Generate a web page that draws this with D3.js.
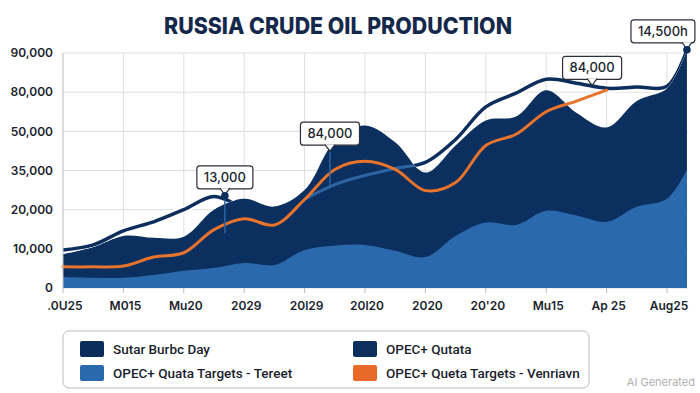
<!DOCTYPE html>
<html>
<head>
<meta charset="utf-8">
<script src="https://cdn.jsdelivr.net/npm/d3@7"></script>
<style>
  body { margin: 0; background: #fff; }
  svg { display: block; font-family: Inter, "Open Sans", sans-serif; }
  .grid line { stroke: #dedede; stroke-width: 1; }
  .tick-label { font-size: 12px; font-weight: 600; fill: #1b1f2e; }
</style>
</head>
<body>
<svg id="svg" width="700" height="393"></svg>
<script>
// data
const tickLabels = [".0U25", "M015", "Mu20", "2029", "20l29", "20l20", "2020", "20'20", "Mu15", "Ap 25", "Aug25"];
const yTicks = [0, 10000, 20000, 35000, 50000, 80000, 90000];

// sample positions, in x-tick units
const tPos = [0, 0.5, 1, 1.5, 2, 2.5, 3, 3.5, 4, 4.5, 5, 5.5, 6, 6.5, 7, 7.5, 8, 8.5, 9, 9.5, 10, 10.33];

const barrelsDay = [8700, 10500, 13300, 12800, 13100, 20000, 24200, 21200, 27500, 46200, 54500, 45800, 34200, 44600, 58300, 61300, 80500, 64300, 53000, 73300, 81000, 90800];
const targetsTereet = [2800, 2600, 2600, 3300, 4400, 5100, 6400, 5900, 9700, 10800, 11000, 9500, 7900, 13300, 16700, 16100, 19700, 18500, 16900, 21100, 24200, 35400];
const quotaLine = [9700, 11000, 14600, 16900, 20000, 25000, 20500, 17500, 24000, 29600, 33100, 35800, 38100, 46900, 68700, 79200, 83300, 82300, 81000, 81300, 81500, 90800];
const targetsVenriavn = [5400, 5400, 5600, 7900, 9000, 14900, 17700, 16100, 23900, 35400, 38500, 35400, 27300, 30400, 44600, 48900, 65000, 73200, 80500, null, null, null];

const annotations = [
  { label: "13,000", t: 2.68, v: 25300, dx: 0, dot: true, lead: 14000 },
  { label: "84,000", t: 4.42, v: 42000, dx: 0, dot: false, lead: 29200 },
  { label: "84,000", t: 8.76, v: 81500, dx: 0, dot: false, lead: null },
  { label: "14,500h", t: 10.33, v: 90800, dx: -24, dot: true, lead: null }
];

const legendItems = [
  { label: "Sutar Burbc Day", color: "#0b2d5b" },
  { label: "OPEC+ Qutata", color: "#0c2f5e" },
  { label: "OPEC+ Quata Targets - Tereet", color: "#2b69ad" },
  { label: "OPEC+ Queta Targets - Venriavn", color: "#e8692a" }
];

const svg = d3.select("#svg");
const plotL = 63, plotR = 688, plotT = 53, plotB = 288;

const x = d3.scaleLinear().domain([0, 10.35]).range([plotL, plotL + 10.35 * 60.4]);
const step = (plotB - plotT) / (yTicks.length - 1);
const y = d3.scaleLinear().domain(yTicks).range(yTicks.map((d, i) => plotB - i * step));

const rows = tPos.map((t, i) => ({
  t: t, dark: barrelsDay[i], light: targetsTereet[i], quota: quotaLine[i], orange: targetsVenriavn[i]
}));

// title
svg.append("text")
  .attr("x", 338).attr("y", 34)
  .attr("text-anchor", "middle")
  .attr("font-size", 23).attr("font-weight", 800)
  .attr("textLength", 348).attr("lengthAdjust", "spacingAndGlyphs")
  .attr("fill", "#14284b")
  .text("RUSSIA CRUDE OIL PRODUCTION");

// grid
const grid = svg.append("g").attr("class", "grid");
grid.selectAll("line.h").data(yTicks).enter().append("line")
  .attr("x1", plotL).attr("x2", plotR)
  .attr("y1", d => y(d)).attr("y2", d => y(d));
grid.selectAll("line.v").data(tickLabels).enter().append("line")
  .attr("x1", (d, i) => x(i)).attr("x2", (d, i) => x(i))
  .attr("y1", plotT).attr("y2", plotB);

const curve = d3.curveCatmullRom;

const darkArea = d3.area().curve(curve)
  .x(d => x(d.t)).y0(plotB).y1(d => y(d.dark));
const aboveDark = d3.area().curve(curve)
  .x(d => x(d.t)).y0(0).y1(d => y(d.dark));

const defs = svg.append("defs");
defs.append("clipPath").attr("id", "above-dark")
  .append("path").attr("d", aboveDark(rows));
defs.append("clipPath").attr("id", "in-dark")
  .append("path").attr("d", darkArea(rows));

svg.append("path")
  .attr("d", darkArea(rows))
  .attr("fill", "#0b2f5e");

svg.append("path")
  .attr("d", d3.area().curve(curve).x(d => x(d.t)).y0(plotB).y1(d => y(d.light))(rows))
  .attr("fill", "#2b69ad");

// quota line: lighter blue where it runs inside the dark area
const quotaGen = d3.line().curve(curve).x(d => x(d.t)).y(d => y(d.quota));
svg.append("path")
  .attr("d", quotaGen(rows.filter(d => d.t >= 4 && d.t <= 6.5)))
  .attr("clip-path", "url(#in-dark)")
  .attr("fill", "none")
  .attr("stroke", "#2d64a3")
  .attr("stroke-width", 3);

const quotaTop = svg.append("g").attr("clip-path", "url(#above-dark)");
quotaTop.append("path")
  .attr("d", quotaGen(rows))
  .attr("fill", "none").attr("stroke", "#fff").attr("stroke-width", 8);
quotaTop.append("path")
  .attr("d", quotaGen(rows))
  .attr("fill", "none").attr("stroke", "#0d2e5c").attr("stroke-width", 3.5);

// orange line
svg.append("path")
  .attr("d", d3.line().curve(curve).defined(d => d.orange != null)
    .x(d => x(d.t)).y(d => y(d.orange))(rows))
  .attr("fill", "none")
  .attr("stroke", "#e8732b")
  .attr("stroke-width", 3)
  .attr("stroke-linecap", "round");

// left axis line and bottom ticks
svg.append("line").attr("x1", plotL).attr("x2", plotL).attr("y1", plotT).attr("y2", plotB)
  .attr("stroke", "#c8c8c8");
svg.selectAll("line.xtick").data(tickLabels).enter().append("line")
  .attr("x1", (d, i) => x(i)).attr("x2", (d, i) => x(i))
  .attr("y1", plotB).attr("y2", plotB + 5)
  .attr("stroke", "#bbb");

svg.selectAll("text.ylab").data(yTicks).enter().append("text")
  .attr("class", "tick-label")
  .attr("x", 53).attr("y", d => y(d)).attr("dy", "0.35em")
  .attr("text-anchor", "end")
  .text(d3.format(","));

svg.selectAll("text.xlab").data(tickLabels).enter().append("text")
  .attr("class", "tick-label")
  .attr("x", (d, i) => x(i) + 2).attr("y", 306).attr("dy", "0.35em")
  .attr("text-anchor", "middle")
  .text(d => d);

// annotations
const ann = svg.selectAll("g.ann").data(annotations).enter().append("g");
ann.each(function(d) {
  const g = d3.select(this);
  const px = x(d.t), py = y(d.v);
  const h = 23;
  if (d.lead != null) {
    g.append("line").attr("x1", px).attr("x2", px).attr("y1", py).attr("y2", y(d.lead))
      .attr("stroke", "#2d64a3").attr("stroke-width", 1.5);
  }
  const box = g.append("rect");
  const tail = g.append("path");
  const label = g.append("text").attr("x", px + d.dx).attr("y", py - 7 - h / 2).attr("dy", "0.36em")
    .attr("text-anchor", "middle").attr("font-size", 13).attr("font-weight", 500)
    .attr("fill", "#1b1f2e").text(d.label);
  const w = label.node().getComputedTextLength() + 14;
  const bx = px + d.dx - w / 2, by = py - h - 7;
  box.attr("x", bx).attr("y", by).attr("width", w).attr("height", h).attr("rx", 3)
    .attr("fill", "#fff").attr("stroke", "#2b2f3a").attr("stroke-width", 1.2);
  tail.attr("d", `M${px - 5},${by + h - 0.6}L${px},${py - 1}L${px + 5},${by + h - 0.6}`)
    .attr("fill", "#fff").attr("stroke", "#2b2f3a").attr("stroke-width", 1.2);
  if (d.dot) {
    g.append("circle").attr("cx", px).attr("cy", py).attr("r", 3.8).attr("fill", "#0d2e5c");
  }
});

// legend
svg.append("rect").attr("x", 63).attr("y", 331).attr("width", 526).attr("height", 57).attr("rx", 6)
  .attr("fill", "#fff").attr("stroke", "#bdbdbd");
const leg = svg.selectAll("g.leg").data(legendItems).enter().append("g")
  .attr("transform", (d, i) => `translate(${i % 2 ? 353 : 80},${i < 2 ? 341 : 365})`);
leg.append("rect").attr("width", 24).attr("height", 16).attr("rx", 2).attr("fill", d => d.color);
leg.append("text").attr("x", 33).attr("y", 8).attr("dy", "0.36em")
  .attr("font-family", "Roboto, sans-serif")
  .attr("font-size", 13.5).attr("font-weight", 500).attr("fill", "#1b1f2e")
  .text(d => d.label);

svg.append("text").attr("x", 695).attr("y", 386).attr("text-anchor", "end")
  .attr("font-size", 11).attr("fill", "#b0b0b0").text("AI Generated");
</script>
</body>
</html>
